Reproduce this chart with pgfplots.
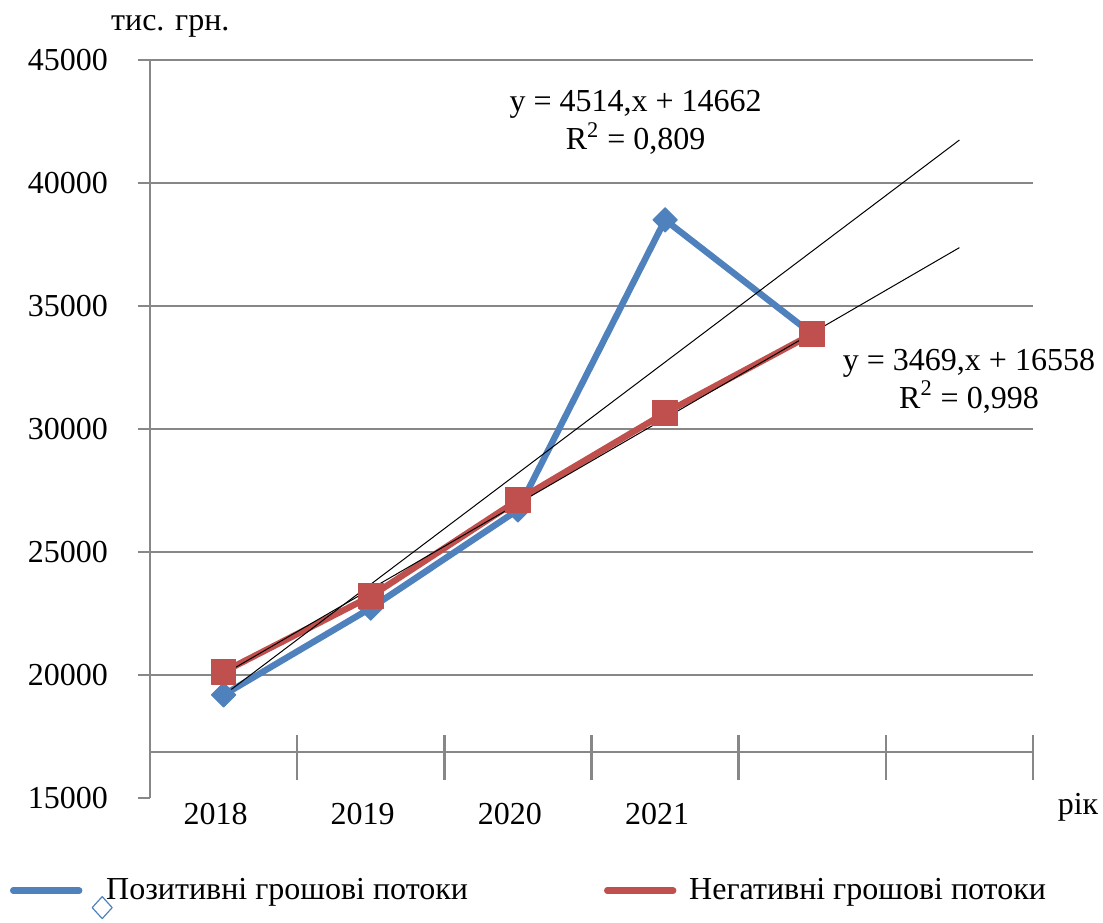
\documentclass[border=0pt]{standalone}
\usepackage{fontspec}
\setmainfont{Liberation Serif}
\usepackage{pgfplots}
\pgfplotsset{compat=1.18}

\definecolor{bluS}{HTML}{4F81BD}
\definecolor{redS}{HTML}{C0504D}
\definecolor{axgray}{HTML}{878787}

\begin{document}
\begin{tikzpicture}[font=\fontsize{16}{19}\selectfont]
\begin{axis}[
    at={(0,0)}, anchor=south west,
    scale only axis, width=441.5pt, height=369pt,
    xmin=0.5, xmax=6.5, ymin=15000, ymax=45000,
    clip=false,
    axis x line*=bottom, axis y line*=left,
    x axis line style={draw=none},
    y axis line style={axgray, line width=1.3pt, -},
    xtick={1,2,3,4}, xticklabels={2018,2019,2020,2021},
    xtick style={draw=none},
    x tick label style={xshift=-4pt, yshift=7pt},
    y tick label style={xshift=-11.5pt},
    yticklabel={\pgfmathprintnumber[assume math mode=true,1000 sep={}]{\tick}},
    ytick={15000},
    extra y ticks={20000,25000,30000,35000,40000,45000},
    extra y tick style={grid=major},
    major grid style={axgray, line width=1.3pt},
    ytick style={axgray, line width=1.3pt},
    tick align=outside, major tick length=6pt,
    scaled y ticks=false,
    /pgf/number format/.cd, 1000 sep={}, assume math mode=true,
    /pgfplots/.cd,
    legend columns=2,
    legend cell align=left,
    legend style={at={(rel axis cs:-0.159,-0.1255)}, anchor=west, draw=none,
        inner sep=0pt, fill=none,
        /tikz/every even column/.append style={column sep=66pt}},
]
% x axis line, drawn higher than the bottom of the y range
\draw[axgray, line width=1.3pt] (axis cs:0.5,16870) -- (axis cs:6.5,16870);
\pgfplotsinvokeforeach{1.5,2.5,3.5,4.5,5.5,6.5}{
    \draw[axgray, line width=1.3pt] (axis cs:#1,17560) -- (axis cs:#1,15730);
}

\addplot[bluS, line width=3.2pt, line join=round,
    mark=square*, mark size=4.3pt, mark options={rotate=45, line width=0.5pt},
    legend image code/.code={
        \path[draw=none] (0pt,0pt) -- (44.5pt,0pt);
        \draw[bluS, line width=3.2pt, line cap=round] (0pt,0pt) -- (33pt,0pt);
        \draw[overlay, bluS, line width=0.6pt] (44.5pt,-3pt) -- (49.5pt,-8.5pt) -- (44.5pt,-14pt) -- (39.5pt,-8.5pt) -- cycle;
    }]
coordinates {(1,19190) (2,22720) (3,26710) (4,38500) (5,33860)};
\addlegendentry{Позитивні грошові потоки}

\addplot[redS, line width=3.2pt, line join=round,
    mark=square*, mark size=6.2pt, mark options={rounded corners=1.5pt, line width=0.5pt},
    legend image code/.code={
        \path[draw=none] (0pt,0pt) -- (39pt,0pt);
        \draw[redS, line width=3.2pt, line cap=round] (0pt,0pt) -- (33pt,0pt);
    }]
coordinates {(1,20130) (2,23200) (3,27110) (4,30650) (5,33860)};
\addlegendentry{Негативні грошові потоки}

% linear trends
\addplot[black, line width=0.5pt, forget plot] coordinates {(1,19176) (6,41746)};
\addplot[black, line width=0.5pt, forget plot] coordinates {(1,20027) (6,37372)};

\node[align=center] at (axis cs:3.80,42450) {y = 4514,x + 14662\\R\textsuperscript{2} = 0,809};
\node[align=center] at (axis cs:6.065,31950) {y = 3469,x + 16558\\R\textsuperscript{2} = 0,998};

\node at (rel axis cs:0.023,1.045) {тис. грн.};
\node at (rel axis cs:1.051,-0.012) {рік};
\end{axis}
\pgfresetboundingbox
\path (-75pt,-62pt) rectangle (476.5pt,399pt);
\end{tikzpicture}
\end{document}
